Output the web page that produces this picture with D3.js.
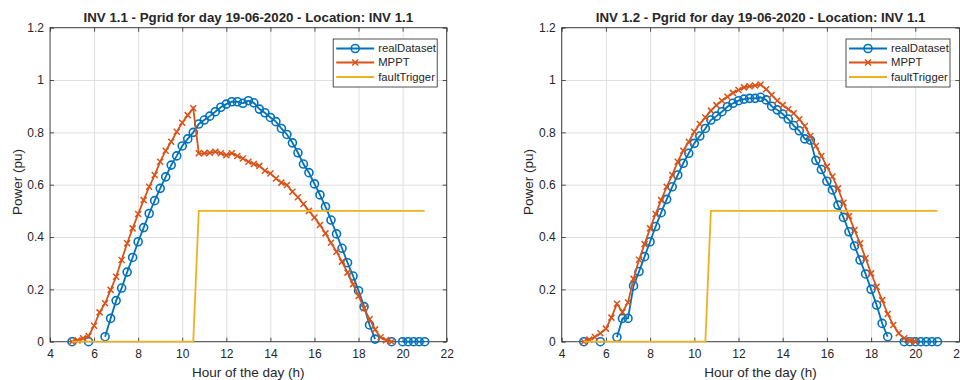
<!DOCTYPE html>
<html>
<head>
<meta charset="utf-8">
<script src="https://cdn.jsdelivr.net/npm/d3@7"></script>
<style>
  body { margin: 0; background: #fff; }
  svg text { font-family: "Liberation Sans", Arial, sans-serif; fill: #262626; }
</style>
</head>
<body>
<div id="chart"></div>
<script>
// time of day, 15 min steps
const hours = [
  5, 5.25, 5.5, 5.75,
  6, 6.25, 6.5, 6.75,
  7, 7.25, 7.5, 7.75,
  8, 8.25, 8.5, 8.75,
  9, 9.25, 9.5, 9.75,
  10, 10.25, 10.5, 10.75,
  11, 11.25, 11.5, 11.75,
  12, 12.25, 12.5, 12.75,
  13, 13.25, 13.5, 13.75,
  14, 14.25, 14.5, 14.75,
  15, 15.25, 15.5, 15.75,
  16, 16.25, 16.5, 16.75,
  17, 17.25, 17.5, 17.75,
  18, 18.25, 18.5, 18.75,
  19, 19.25, 19.5, 19.75,
  20, 20.25, 20.5, 20.75,
  21
];

// INV 1.1
const inv11Real = [
  0, null, null, 0,
  null, null, 0.019, 0.089,
  0.157, 0.205, 0.266, 0.322,
  0.382, 0.436, 0.490, 0.539,
  0.586, 0.630, 0.675, 0.710,
  0.748, 0.775, 0.800, 0.832,
  0.847, 0.862, 0.879, 0.896,
  0.908, 0.917, 0.917, 0.911,
  0.921, 0.913, 0.889, 0.875,
  0.857, 0.841, 0.815, 0.792,
  0.760, 0.722, 0.679, 0.646,
  0.603, 0.561, 0.516, 0.465,
  0.412, 0.357, 0.302, 0.251,
  0.195, 0.134, 0.064, 0.010,
  null, null, 0, null,
  0, 0, 0, 0,
  0
];
const inv11Mppt = [
  0, 0.005, 0.013, 0.022,
  0.061, 0.112, 0.147, 0.198,
  0.248, 0.312, 0.376, 0.433,
  0.488, 0.541, 0.592, 0.637,
  0.688, 0.730, 0.764, 0.802,
  0.837, 0.866, 0.892, 0.720,
  0.720, 0.722, 0.726, 0.720,
  0.713, 0.720, 0.710, 0.700,
  0.688, 0.679, 0.672, 0.653,
  0.643, 0.624, 0.608, 0.599,
  0.573, 0.552, 0.526, 0.500,
  0.475, 0.446, 0.414, 0.378,
  0.344, 0.306, 0.264, 0.220,
  0.175, 0.128, 0.086, 0.047,
  0.017, 0.006, 0, null,
  null, null, null, null,
  null
];

// INV 1.2
const inv12Real = [
  0, null, null, 0,
  null, null, 0.017, 0.089,
  0.089, 0.213, 0.268, 0.325,
  0.382, 0.440, 0.493, 0.544,
  0.592, 0.637, 0.682, 0.720,
  0.758, 0.786, 0.815, 0.847,
  0.862, 0.879, 0.898, 0.911,
  0.921, 0.927, 0.930, 0.930,
  0.934, 0.924, 0.900, 0.886,
  0.870, 0.851, 0.826, 0.806,
  0.775, 0.770, 0.693, 0.658,
  0.613, 0.580, 0.522, 0.475,
  0.420, 0.366, 0.312, 0.259,
  0.200, 0.140, 0.070, 0.019,
  null, null, 0, 0,
  0, 0, 0, 0,
  0
];
const inv12Mppt = [
  0, 0.008, 0.018, 0.032,
  0.050, 0.092, 0.145, 0.113,
  0.150, 0.240, 0.313, 0.373,
  0.433, 0.488, 0.541, 0.592,
  0.637, 0.688, 0.730, 0.764,
  0.802, 0.832, 0.857, 0.883,
  0.904, 0.921, 0.936, 0.951,
  0.962, 0.972, 0.976, 0.979,
  0.983, 0.965, 0.943, 0.921,
  0.904, 0.888, 0.873, 0.850,
  0.824, 0.786, 0.748, 0.710,
  0.669, 0.631, 0.586, 0.531,
  0.480, 0.427, 0.376, 0.319,
  0.261, 0.210, 0.159, 0.106,
  0.064, 0.032, 0.013, 0.004,
  0, null, null, null,
  null
];

// fault trigger is a step, same for both inverters
const faultHours = [5, 10.5, 10.75, 21];
const faultValues = [0, 0, 0.5, 0.5];

const xTicks = [4, 6, 8, 10, 12, 14, 16, 18, 20, 22];
const xTickLabels = ["4", "6", "8", "10", "12", "14", "16", "18", "20", "22"];
const yTicks = [0, 0.2, 0.4, 0.6, 0.8, 1, 1.2];
const yTickLabels = ["0", "0.2", "0.4", "0.6", "0.8", "1", "1.2"];
const legendNames = ["realDataset", "MPPT", "faultTrigger"];

const colors = { real: "#0072BD", mppt: "#D95319", fault: "#EDB120" };

const chartWidth = 960;
const chartHeight = 380;
const plotTop = 27.7;
const plotBottom = 341.7;

const panels = [
  { title: "INV 1.1 - Pgrid for day 19-06-2020 - Location: INV 1.1",
    real: inv11Real, mppt: inv11Mppt, left: 50, right: 446.7, ylabelX: 17 },
  { title: "INV 1.2 - Pgrid for day 19-06-2020 - Location: INV 1.1",
    real: inv12Real, mppt: inv12Mppt, left: 561.7, right: 959.5, ylabelX: 528 }
];

const svg = d3.select("#chart").append("svg")
  .attr("width", chartWidth)
  .attr("height", chartHeight);

const yScale = d3.scaleLinear().domain([0, 1.2]).range([plotBottom, plotTop]);

function toPoints(values) {
  return hours.map((h, i) => [h, values[i]]);
}

const crossPath = "M-3,-3L3,3M-3,3L3,-3";

panels.forEach(p => {
  const xScale = d3.scaleLinear().domain([4, 22]).range([p.left, p.right]);
  const g = svg.append("g");

  // grid
  g.append("g")
    .attr("transform", "translate(0," + plotBottom + ")")
    .call(d3.axisBottom(xScale).tickValues(xTicks).tickSize(-(plotBottom - plotTop)).tickFormat(""))
    .call(s => s.select(".domain").remove())
    .selectAll("line").attr("stroke", "#dfdfdf");
  g.append("g")
    .attr("transform", "translate(" + p.left + ",0)")
    .call(d3.axisLeft(yScale).tickValues(yTicks).tickSize(-(p.right - p.left)).tickFormat(""))
    .call(s => s.select(".domain").remove())
    .selectAll("line").attr("stroke", "#dfdfdf");

  // box
  g.append("rect")
    .attr("x", p.left).attr("y", plotTop)
    .attr("width", p.right - p.left).attr("height", plotBottom - plotTop)
    .attr("fill", "none").attr("stroke", "#262626").attr("stroke-width", 0.8);

  // ticks, pointing inside on all sides
  const xb = g.append("g")
    .attr("transform", "translate(0," + plotBottom + ")")
    .call(d3.axisBottom(xScale).tickValues(xTicks).tickSizeInner(-4).tickSizeOuter(0)
      .tickPadding(8).tickFormat((d, i) => xTickLabels[i]));
  const xt = g.append("g")
    .attr("transform", "translate(0," + plotTop + ")")
    .call(d3.axisTop(xScale).tickValues(xTicks).tickSizeInner(-4).tickSizeOuter(0).tickFormat(""));
  const yl = g.append("g")
    .attr("transform", "translate(" + p.left + ",0)")
    .call(d3.axisLeft(yScale).tickValues(yTicks).tickSizeInner(-4).tickSizeOuter(0)
      .tickPadding(6).tickFormat((d, i) => yTickLabels[i]));
  const yr = g.append("g")
    .attr("transform", "translate(" + p.right + ",0)")
    .call(d3.axisRight(yScale).tickValues(yTicks).tickSizeInner(-4).tickSizeOuter(0).tickFormat(""));
  [xb, xt, yl, yr].forEach(a => {
    a.select(".domain").remove();
    a.selectAll("line").attr("stroke", "#262626").attr("stroke-width", 0.8);
    a.selectAll("text").attr("font-size", "12px").attr("fill", "#303030")
      .style("font-family", "'Liberation Sans', Arial, sans-serif");
  });

  const line = d3.line()
    .defined(d => d[1] != null)
    .x(d => xScale(d[0]))
    .y(d => yScale(d[1]));

  // realDataset
  const realPts = toPoints(p.real);
  g.append("path")
    .datum(realPts)
    .attr("fill", "none").attr("stroke", colors.real).attr("stroke-width", 1.8)
    .attr("d", line);
  g.selectAll(".circ")
    .data(realPts.filter(d => d[1] != null))
    .enter().append("circle")
    .attr("cx", d => xScale(d[0]))
    .attr("cy", d => yScale(d[1]))
    .attr("r", 4)
    .attr("fill", "none").attr("stroke", colors.real).attr("stroke-width", 1.6);

  // MPPT
  const mpptPts = toPoints(p.mppt);
  g.append("path")
    .datum(mpptPts)
    .attr("fill", "none").attr("stroke", colors.mppt).attr("stroke-width", 1.8)
    .attr("d", line);
  g.selectAll(".cross")
    .data(mpptPts.filter(d => d[1] != null))
    .enter().append("path")
    .attr("transform", d => "translate(" + xScale(d[0]) + "," + yScale(d[1]) + ")")
    .attr("d", crossPath)
    .attr("stroke", colors.mppt).attr("stroke-width", 1.5);

  // faultTrigger
  g.append("path")
    .datum(faultHours.map((h, i) => [h, faultValues[i]]))
    .attr("fill", "none").attr("stroke", colors.fault).attr("stroke-width", 1.8)
    .attr("d", line);

  // labels
  g.append("text")
    .attr("x", (p.left + p.right) / 2).attr("y", 22)
    .attr("text-anchor", "middle")
    .attr("font-size", "13.3px").attr("font-weight", "bold")
    .text(p.title);
  g.append("text")
    .attr("x", (p.left + p.right) / 2).attr("y", 376.5)
    .attr("text-anchor", "middle")
    .attr("font-size", "13.5px")
    .text("Hour of the day (h)");
  g.append("text")
    .attr("transform", "translate(" + p.ylabelX + ",182) rotate(-90)")
    .attr("text-anchor", "middle")
    .attr("dy", "0.35em")
    .attr("font-size", "13.5px")
    .text("Power (pu)");

  // legend
  const lx = p.right - 9.5 - 104;
  const leg = g.append("g").attr("transform", "translate(" + lx + ",39)");
  leg.append("rect")
    .attr("width", 104).attr("height", 48)
    .attr("fill", "#fff").attr("stroke", "#262626").attr("stroke-width", 0.8);
  const rows = [9.5, 23.5, 38];
  legendNames.forEach((name, i) => {
    const col = [colors.real, colors.mppt, colors.fault][i];
    const ly = rows[i];
    leg.append("line")
      .attr("x1", 3).attr("x2", 41).attr("y1", ly).attr("y2", ly)
      .attr("stroke", col).attr("stroke-width", 1.8);
    if (i === 0) {
      leg.append("circle").attr("cx", 22).attr("cy", ly).attr("r", 4)
        .attr("fill", "none").attr("stroke", col).attr("stroke-width", 1.6);
    } else if (i === 1) {
      leg.append("path").attr("transform", "translate(22," + ly + ")")
        .attr("d", crossPath)
        .attr("stroke", col).attr("stroke-width", 1.5);
    }
    leg.append("text")
      .attr("x", 45).attr("y", ly).attr("dy", "0.35em")
      .attr("font-size", "11.3px")
      .text(name);
  });
});
</script>
</body>
</html>
